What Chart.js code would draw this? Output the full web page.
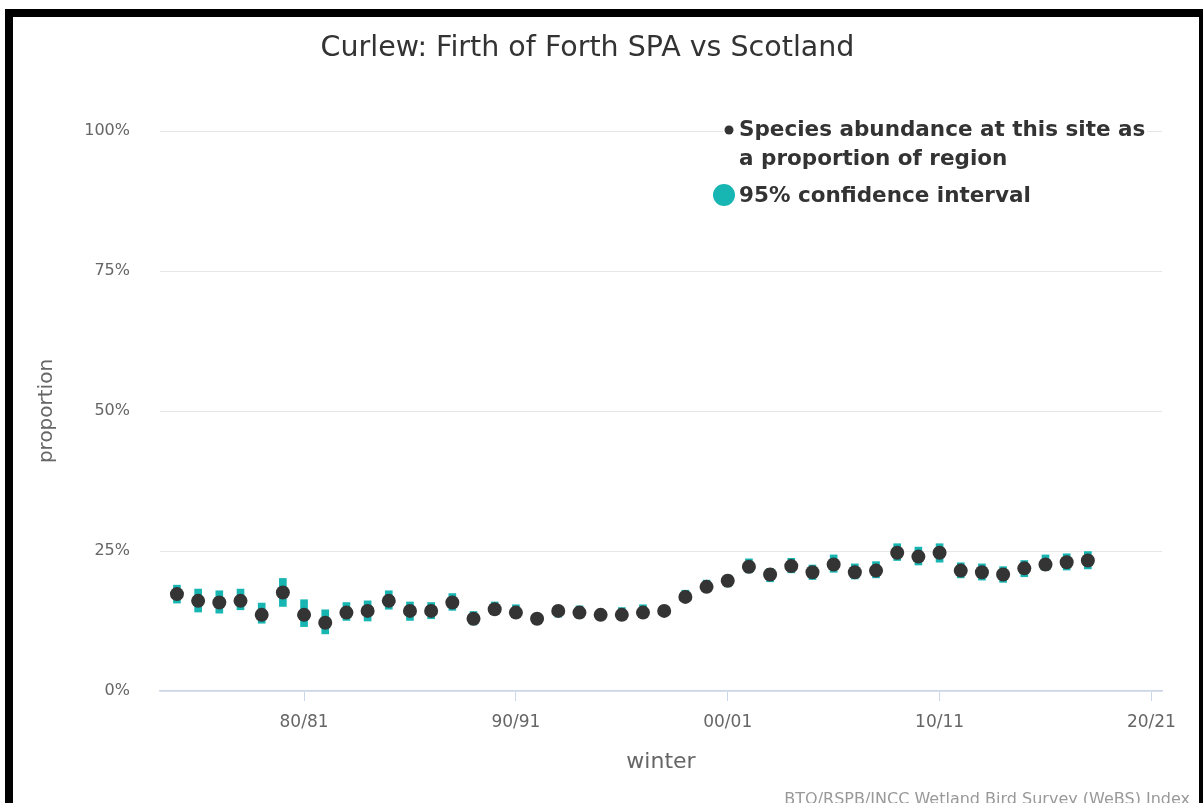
<!DOCTYPE html>
<html>
<head>
<meta charset="utf-8">
<title>Curlew: Firth of Forth SPA vs Scotland</title>
<script src="https://cdn.jsdelivr.net/npm/chart.js@4.4.1/dist/chart.umd.min.js"></script>
<style>
    html, body { margin: 0; padding: 0; background: #fff; }
    .frame {
        position: absolute;
        left: 5px;
        top: 9px;
        width: 1186px;
        height: 794px;
        border-left: 8px solid #000;
        border-top: 8px solid #000;
        border-right: 4px solid #000;
        background: #fff;
    }
    canvas { display: block; }
</style>
</head>
<body>
<div class="frame">
    <canvas id="proportionChart" width="1186" height="786"></canvas>
</div>
<script>
// Winters (first year of each season)
const winters = [
    1974, 1975, 1976, 1977, 1978, 1979, 1980, 1981, 1982, 1983, 1984,
    1985, 1986, 1987, 1988, 1989, 1990, 1991, 1992, 1993, 1994, 1995,
    1996, 1997, 1998, 1999, 2000, 2001, 2002, 2003, 2004, 2005, 2006,
    2007, 2008, 2009, 2010, 2011, 2012, 2013, 2014, 2015, 2016, 2017
];

// Site abundance as % of the regional total
const proportion = [
    17.3, 16.1, 15.8, 16.1, 13.6, 17.6, 13.6, 12.2, 14.0, 14.3, 16.1,
    14.3, 14.3, 15.8, 12.9, 14.6, 14.0, 12.9, 14.3, 14.0, 13.6, 13.6,
    14.0, 14.3, 16.8, 18.6, 19.7, 22.2, 20.8, 22.3, 21.2, 22.6, 21.2,
    21.5, 24.7, 24.0, 24.7, 21.5, 21.2, 20.8, 21.9, 22.6, 23.0, 23.3
];

// 95% confidence interval bounds
const ciLower = [
    15.7, 14.1, 13.9, 14.5, 12.1, 15.1, 11.5, 10.2, 12.6, 12.5, 14.6,
    12.6, 12.9, 14.4, 11.8, 13.9, 13.3, 12.3, 13.2, 13.0, 13.0, 13.0,
    13.3, 13.7, 16.0, 17.9, 18.6, 21.1, 19.5, 21.1, 19.9, 21.2, 20.0,
    20.2, 23.3, 22.5, 23.0, 20.2, 19.8, 19.4, 20.4, 21.5, 21.6, 21.8
];
const ciUpper = [
    18.9, 18.2, 17.9, 18.2, 15.7, 20.1, 16.3, 14.5, 15.8, 16.1, 17.9,
    15.9, 15.8, 17.4, 14.2, 15.9, 15.4, 13.5, 15.2, 15.2, 14.2, 14.9,
    15.4, 14.9, 18.0, 19.8, 20.7, 23.6, 21.9, 23.7, 22.5, 24.3, 22.7,
    23.1, 26.3, 25.7, 26.3, 22.9, 22.7, 22.2, 23.3, 24.3, 24.5, 24.9
];

// X axis ticks
const tickYears = [1980, 1990, 2000, 2010, 2020];
const tickLabels = ['80/81', '90/91', '00/01', '10/11', '20/21'];

const seriesLabel = ['Species abundance at this site as', 'a proportion of region'];
const ciLabel = '95% confidence interval';
const creditText = 'BTO/RSPB/JNCC Wetland Bird Survey (WeBS) Index';

const pointColor = '#343434';
const ciColor = '#17b6b3';

Chart.defaults.font.family = '"DejaVu Sans", "Lucida Grande", sans-serif';
Chart.defaults.color = '#666666';

// Floating legend in the top right of the plot
const siteLegend = {
    id: 'siteLegend',
    afterDraw(chart) {
        const ctx = chart.ctx;
        const area = chart.chartArea;
        const textX = area.left + 579;
        const lineY = area.top - 1;

        ctx.save();
        ctx.font = 'bold 21.5px "DejaVu Sans", sans-serif';
        ctx.textBaseline = 'middle';
        ctx.textAlign = 'left';

        // keep the top gridline from running through the text
        const w = ctx.measureText(seriesLabel[0]).width;
        ctx.fillStyle = '#fff';
        ctx.fillRect(textX - 16, lineY - 3, w + 18, 6);

        ctx.fillStyle = pointColor;
        ctx.beginPath();
        ctx.arc(textX - 10, lineY, 4.5, 0, Math.PI * 2);
        ctx.fill();

        ctx.fillStyle = '#333333';
        seriesLabel.forEach((line, i) => {
            ctx.fillText(line, textX, lineY + i * 29);
        });

        ctx.fillStyle = ciColor;
        ctx.beginPath();
        ctx.arc(textX - 15, lineY + 65, 11, 0, Math.PI * 2);
        ctx.fill();

        ctx.fillStyle = '#333333';
        ctx.fillText(ciLabel, textX, lineY + 66);

        // credits line
        ctx.font = '16px "DejaVu Sans", sans-serif';
        ctx.fillStyle = '#999999';
        ctx.textAlign = 'right';
        ctx.textBaseline = 'alphabetic';
        ctx.fillText(creditText, chart.width - 9, chart.height + 1);
        ctx.restore();
    }
};

function initChart() {
    const ctx = document.getElementById('proportionChart').getContext('2d');

    new Chart(ctx, {
        type: 'scatter',
        data: {
            datasets: [
                {
                    type: 'scatter',
                    label: seriesLabel.join(' '),
                    data: winters.map((w, i) => ({ x: w, y: proportion[i] })),
                    backgroundColor: pointColor,
                    borderWidth: 0,
                    pointRadius: 7,
                    order: 0
                },
                {
                    type: 'bar',
                    label: ciLabel,
                    data: winters.map((w, i) => ({ x: w, y: [ciLower[i], ciUpper[i]] })),
                    backgroundColor: ciColor,
                    borderWidth: 0,
                    barThickness: 7,
                    order: 1
                }
            ]
        },
        options: {
            responsive: false,
            animation: false,
            layout: {
                padding: { left: 0, right: 37, top: 0, bottom: 28 }
            },
            plugins: {
                legend: { display: false },
                tooltip: { enabled: false },
                title: {
                    display: true,
                    text: 'Curlew: Firth of Forth SPA vs Scotland',
                    color: '#333333',
                    font: { size: 28.5, weight: 'normal' },
                    padding: { top: 14, bottom: 65.8 }
                }
            },
            scales: {
                x: {
                    type: 'linear',
                    min: 1973.2,
                    max: 2020.5,
                    offset: false,
                    afterBuildTicks: (scale) => {
                        scale.ticks = tickYears.map(v => ({ value: v }));
                    },
                    afterFit: (scale) => {
                        scale.height = 84;
                    },
                    ticks: {
                        color: '#666666',
                        font: { size: 17 },
                        padding: 11,
                        maxRotation: 0,
                        callback: (value) => tickLabels[tickYears.indexOf(value)]
                    },
                    grid: {
                        offset: false,
                        drawOnChartArea: false,
                        drawTicks: true,
                        tickLength: 10,
                        color: '#ccd6eb'
                    },
                    border: { display: true, color: '#ccd6eb', width: 1.5 },
                    title: {
                        display: true,
                        text: 'winter',
                        color: '#666666',
                        font: { size: 22 },
                        padding: { top: 0, bottom: 0 }
                    }
                },
                y: {
                    min: 0,
                    max: 100,
                    afterFit: (scale) => {
                        scale.width = 147;
                    },
                    ticks: {
                        stepSize: 25,
                        color: '#666666',
                        font: { size: 16 },
                        padding: 30,
                        callback: (value) => value + '%'
                    },
                    grid: {
                        color: '#e6e6e6',
                        drawTicks: false
                    },
                    border: { display: false },
                    title: {
                        display: true,
                        text: 'proportion',
                        color: '#666666',
                        font: { size: 20 },
                        padding: { top: 22, bottom: 0 }
                    }
                }
            }
        },
        plugins: [siteLegend]
    });
}

document.addEventListener('DOMContentLoaded', initChart);
</script>
</body>
</html>
